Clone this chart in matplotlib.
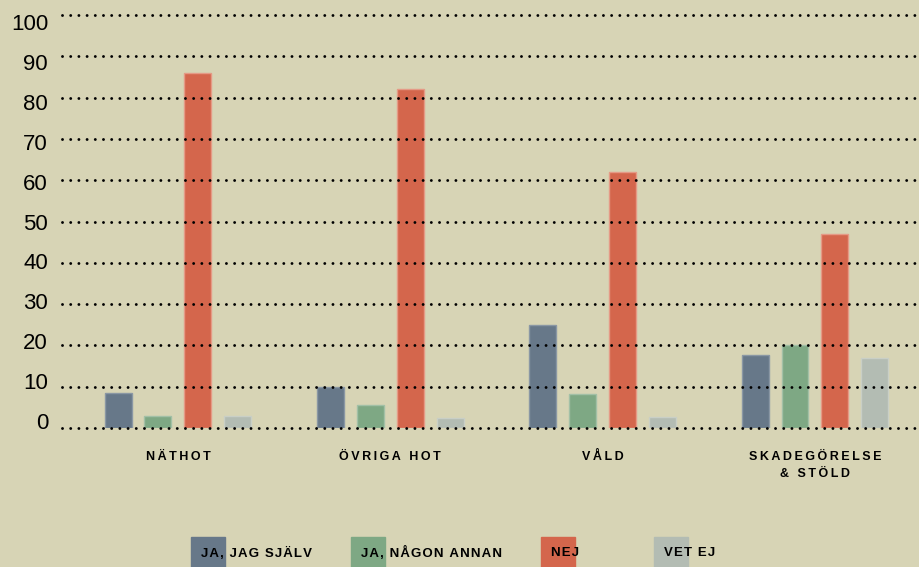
import numpy as np
import matplotlib
matplotlib.use("Agg")
import matplotlib.pyplot as plt
from matplotlib.patches import Rectangle

# Data
categories = ["NÄTHOT", "ÖVRIGA HOT", "VÅLD", "SKADEGÖRELSE\n& STÖLD"]
series = ["JA, JAG SJÄLV", "JA, NÅGON ANNAN", "NEJ", "VET EJ"]
ja_jag_sjalv = [8.5, 10, 25, 17.7]
ja_nagon_annan = [2.8, 5.5, 8.3, 20]
nej = [86, 82, 62, 47]
vet_ej = [2.8, 2.5, 2.7, 17]
yticks = [0, 10, 20, 30, 40, 50, 60, 70, 80, 90, 100]

colors = ["#677889", "#7ea884", "#d4664c", "#b3bcb3"]
edges = ["#8a97a4", "#a2c0a6", "#e59a86", "#c9cfc6"]
bg = "#d7d4b5"

plt.rcParams["font.family"] = ["Liberation Sans", "DejaVu Sans"]


def spaced(s, sep="\u2009"):
    # fake letter spacing
    return "\n".join(sep.join(line) for line in s.split("\n"))


fig = plt.figure(figsize=(9.19, 5.67), dpi=100, facecolor=bg)
ax = fig.add_axes([62 / 919, 1 - 428 / 567, 1 - 62 / 919, (428 - 15) / 567])
ax.set_facecolor(bg)

x = np.arange(len(categories))
width = 0.127
step = 0.188
values = [ja_jag_sjalv, ja_nagon_annan, nej, vet_ej]
for i, vals in enumerate(values):
    ax.bar(x + (i - 1.5) * step, vals, width, color=colors[i],
           edgecolor=edges[i], linewidth=1, zorder=2)

# dotted gridlines drawn over the bars
for v in yticks:
    ax.axhline(v, color="black", linewidth=2.1, linestyle=(0, (0.01, 2.8)),
               dash_capstyle="round", zorder=3, clip_on=False)

ax.set_xlim(-0.546, 3.49)
ax.set_ylim(0, 100)

# tick labels sit a little off the lines in the original
ax.set_yticks([1.7 + 0.966 * v for v in yticks])
ax.set_yticklabels([str(v) for v in yticks], fontsize=16)
ax.tick_params(axis="y", length=0, pad=10)
ax.set_xticks([])
for s in ax.spines.values():
    s.set_visible(False)

for xi, cat in zip(x, categories):
    ax.text(xi, -5.6, spaced(cat), ha="center", va="top", fontsize=9,
            fontweight="bold", linespacing=1.55)

# legend: colour blocks with the text laid over them
leg_x = [191, 351, 541, 654]
for lx, name, c in zip(leg_x, series, colors):
    fig.patches.append(Rectangle((lx / 919, 0), 34 / 919, 30 / 567,
                                 transform=fig.transFigure, color=c, zorder=0))
    fig.text((lx + 10) / 919, 1 - 553 / 567, spaced(name, "\u200a"), ha="left",
             va="center", fontsize=9.5, fontweight="bold")

fig.savefig("out.png", dpi=100, facecolor=bg)
